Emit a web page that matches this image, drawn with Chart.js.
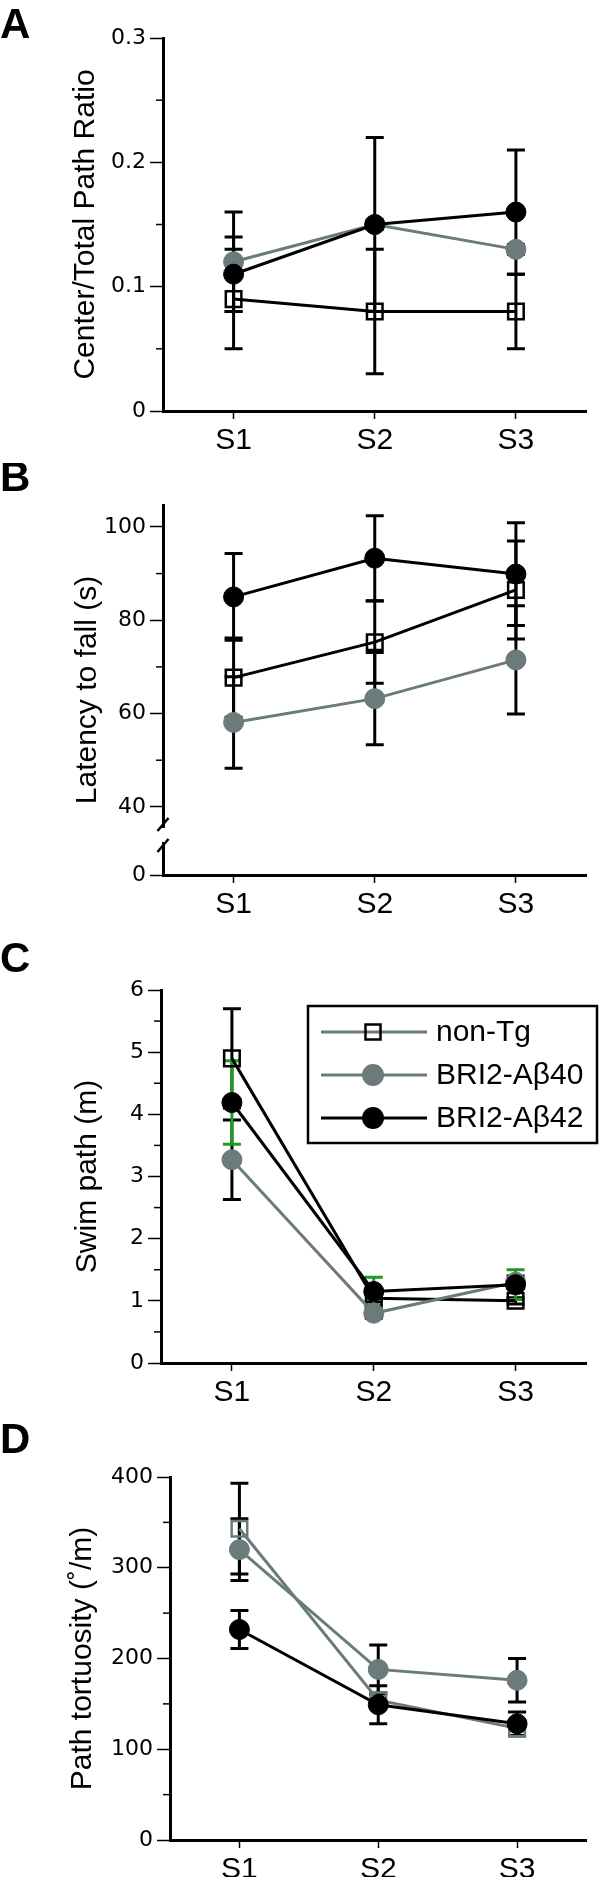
<!DOCTYPE html>
<html>
<head>
<meta charset="utf-8">
<script src="https://cdn.jsdelivr.net/npm/chart.js@4.4.1/dist/chart.umd.min.js"></script>
<style>
  html, body { margin:0; padding:0; background:#fff; }
  #page { position:relative; width:600px; height:1877px; overflow:hidden; }
  canvas { position:absolute; left:0; }
</style>
</head>
<body>
<div id="page">
  <canvas id="chartA" width="600" height="463" style="top:0px"></canvas>
  <canvas id="chartB" width="600" height="467" style="top:463px"></canvas>
  <canvas id="chartC" width="600" height="480" style="top:930px"></canvas>
  <canvas id="chartD" width="600" height="477" style="top:1400px"></canvas>
</div>
<script>
const sessions = ["S1", "S2", "S3"];
const groupNames = ["non-Tg", "BRI2-Aβ40", "BRI2-Aβ42"];

// A - center / total path ratio
const ratioNonTg = [0.09, 0.08, 0.08];
const ratioNonTgSem = [0.04, 0.05, 0.03];
const ratioAb40 = [0.12, 0.15, 0.13];
const ratioAb40Sem = [0.04, 0.004, 0.004];
const ratioAb42 = [0.11, 0.15, 0.16];
const ratioAb42Sem = [0.03, 0.07, 0.05];
const ratioTicks = [0, 0.1, 0.2, 0.3];
const ratioMinor = [0.05, 0.15, 0.25];

// B - latency to fall (s), axis broken between 0 and 40
const latencyNonTg = [67.7, 75.3, 86.5];
const latencyNonTgSem = [8.5, 8.8, 10.5];
const latencyAb40 = [58.1, 63.2, 71.5];
const latencyAb40Sem = [9.8, 9.9, 11.6];
const latencyAb42 = [85.0, 93.3, 89.9];
const latencyAb42Sem = [9.3, 9.1, 11.0];
const latencyTicks = [0, 40, 60, 80, 100];
const latencyMinor = [50, 70, 90];

// C - swim path (m)
const swimNonTg = [4.9, 1.04, 1.0];
const swimNonTgSem = [0.8, 0.06, 0.05];
const swimAb40 = [3.27, 0.8, 1.3];
const swimAb40Sem = [0.64, 0.08, 0.1];
const swimAb42 = [4.19, 1.15, 1.26];
const swimAb42Sem = [0.67, 0.23, 0.24];
const swimTicks = [0, 1, 2, 3, 4, 5, 6];
const swimMinor = [0.5, 1.5, 2.5, 3.5, 4.5, 5.5];

// D - path tortuosity (deg/m)
const tortNonTg = [343, 154, 123];
const tortNonTgSem = [50, 8, 8];
const tortAb40 = [320, 188, 176];
const tortAb40Sem = [34, 27, 24];
const tortAb42 = [232, 149, 128];
const tortAb42Sem = [21, 21, 13];
const tortTicks = [0, 100, 200, 300, 400];
const tortMinor = [50, 150, 250, 350];

const BLACK = "#000000";
const GRAY = "#6b7a7a";
const GREEN = "#1f9a22";
const FONT = '"Liberation Sans", Arial, Helvetica, sans-serif';
const TICK_FONT = '"DejaVu Sans", "Liberation Sans", sans-serif';

Chart.defaults.font.family = FONT;
Chart.defaults.color = BLACK;

function series(idx, data, sem, lineColor, markColor, errColor){
  const square = idx === 0;
  return {
    label: groupNames[idx],
    data, sem, errColor,
    order: 2 - idx,            // Aβ42 on top
    borderColor: lineColor,
    borderWidth: 3,
    tension: 0,
    pointStyle: square ? "rect" : "circle",
    pointRadius: square ? 11 : 10,
    pointBackgroundColor: square ? "rgba(0,0,0,0)" : markColor,
    pointBorderColor: markColor,
    pointBorderWidth: square ? 2.5 : 1
  };
}

// error bars under the markers
const errorBars = {
  id: "errorBars",
  beforeDatasetsDraw(chart){
    const {ctx} = chart;
    const ys = chart.scales.y;
    chart.data.datasets.forEach((ds, i)=>{
      const meta = chart.getDatasetMeta(i);
      ctx.save();
      ctx.strokeStyle = ds.errColor;
      ctx.lineWidth = 3;
      meta.data.forEach((pt, j)=>{
        const hi = ys.getPixelForValue(ds.data[j] + ds.sem[j]);
        const lo = ys.getPixelForValue(ds.data[j] - ds.sem[j]);
        ctx.beginPath();
        ctx.moveTo(pt.x, hi); ctx.lineTo(pt.x, lo);
        ctx.moveTo(pt.x - 9, hi); ctx.lineTo(pt.x + 9, hi);
        ctx.moveTo(pt.x - 9, lo); ctx.lineTo(pt.x + 9, lo);
        ctx.stroke();
      });
      ctx.restore();
    });
  }
};

const legendRows = [
  {name: groupNames[0], line: GRAY, mark: BLACK, square: true},
  {name: groupNames[1], line: GRAY, mark: GRAY, square: false},
  {name: groupNames[2], line: BLACK, mark: BLACK, square: false}
];

// panel letter, minor ticks, axis break, legend box
const panelExtras = {
  id: "panelExtras",
  afterDraw(chart, args, o){
    const {ctx} = chart;
    const y = chart.scales.y;
    ctx.save();
    ctx.fillStyle = BLACK;
    ctx.font = "bold 42px " + FONT;
    ctx.textAlign = "left";
    ctx.textBaseline = "alphabetic";
    ctx.fillText(o.letter, 0, o.letterY);

    ctx.strokeStyle = BLACK;
    ctx.lineWidth = 1.5;
    (o.minor || []).forEach(v=>{
      const py = y.getPixelForValue(v);
      ctx.beginPath();
      ctx.moveTo(y.right - 7, py);
      ctx.lineTo(y.right, py);
      ctx.stroke();
    });

    if(o.breakAbove){
      const gy = (y.getPixelForValue(o.breakAbove) + y.bottom) / 2 - 6;
      ctx.fillStyle = "#fff";
      ctx.fillRect(y.right - 4, gy - 7, 8, 14);
      ctx.lineWidth = 2.5;
      [gy - 10.5, gy + 10.5].forEach(cy=>{
        ctx.beginPath();
        ctx.moveTo(y.right - 5.5, cy + 6.5);
        ctx.lineTo(y.right + 5.5, cy - 6.5);
        ctx.stroke();
      });
    }

    if(o.legend){
      const bx = 308, by = 76, bw = 289, bh = 137;
      ctx.lineWidth = 2.5;
      ctx.strokeStyle = BLACK;
      ctx.strokeRect(bx, by, bw, bh);
      legendRows.forEach((r, i)=>{
        const ry = by + 26 + i * 43;
        ctx.strokeStyle = r.line;
        ctx.lineWidth = 3;
        ctx.beginPath();
        ctx.moveTo(321, ry); ctx.lineTo(427, ry);
        ctx.stroke();
        if(r.square){
          ctx.strokeStyle = r.mark;
          ctx.lineWidth = 2.5;
          ctx.strokeRect(373 - 7.5, ry - 7.5, 15, 15);
        } else {
          ctx.fillStyle = r.mark;
          ctx.beginPath();
          ctx.arc(373, ry, 11, 0, Math.PI * 2);
          ctx.fill();
        }
        ctx.fillStyle = BLACK;
        ctx.font = "30px " + FONT;
        ctx.textBaseline = "middle";
        ctx.fillText(r.name, 436, ry + 1);
      });
    }
    ctx.restore();
  }
};

function panel(id, box, axis, datasets, extras){
  return new Chart(document.getElementById(id), {
    type: "line",
    data: {labels: sessions, datasets},
    options: {
      responsive: false,
      animation: false,
      events: [],
      layout: {padding: {top: box.top, right: 600 - box.right, left: 0, bottom: 0}},
      plugins: {
        legend: {display: false},
        tooltip: {enabled: false},
        panelExtras: extras
      },
      scales: {
        x: {
          type: "category",
          offset: true,
          grid: {display: true, drawOnChartArea: false, offset: false, tickLength: 8, tickWidth: 1.5, tickColor: BLACK},
          border: {color: BLACK, width: 3},
          ticks: {color: BLACK, font: {size: 30}, padding: 4, maxRotation: 0},
          afterFit(s){ s.height = box.height - box.bottom; }
        },
        y: {
          min: axis.min,
          max: axis.max,
          afterBuildTicks(s){ s.ticks = axis.ticks.map(v=>({value: v})); },
          grid: {display: true, drawOnChartArea: false, tickLength: 13, tickWidth: 1.5, tickColor: BLACK},
          border: {color: BLACK, width: 3},
          ticks: {color: BLACK, font: {size: 22, family: TICK_FONT}, padding: 4, callback: axis.label || (v=>v)},
          title: {display: true, text: axis.title, color: BLACK, font: {size: 30}, padding: {top: box.titlePad, bottom: 0}},
          afterFit(s){ s.width = box.left; }
        }
      }
    },
    plugins: [errorBars, panelExtras]
  });
}

// A
panel("chartA",
  {top: 38, bottom: 411, left: 163, right: 598, height: 463, titlePad: 68},
  {min: 0, max: 0.3, ticks: ratioTicks, title: "Center/Total Path Ratio", label: v=>v === 0 ? "0" : v.toFixed(1)},
  [
    series(0, ratioNonTg, ratioNonTgSem, BLACK, BLACK, BLACK),
    series(1, ratioAb40, ratioAb40Sem, GRAY, GRAY, BLACK),
    series(2, ratioAb42, ratioAb42Sem, BLACK, BLACK, BLACK)
  ],
  {letter: "A", letterY: 38, minor: ratioMinor}
);

// B - the 0 tick sits at the bottom of the broken axis
const latencyAxisMin = 25.4;
panel("chartB",
  {top: 42, bottom: 412, left: 163, right: 598, height: 467, titlePad: 70},
  {min: latencyAxisMin, max: 104.7,
   ticks: latencyTicks.map(v=>v === 0 ? latencyAxisMin : v),
   title: "Latency to fall (s)",
   label: v=>v === latencyAxisMin ? "0" : v},
  [
    series(0, latencyNonTg, latencyNonTgSem, BLACK, BLACK, BLACK),
    series(1, latencyAb40, latencyAb40Sem, GRAY, GRAY, BLACK),
    series(2, latencyAb42, latencyAb42Sem, BLACK, BLACK, BLACK)
  ],
  {letter: "B", letterY: 28, minor: latencyMinor, breakAbove: 40}
);

// C
panel("chartC",
  {top: 60, bottom: 433, left: 161, right: 596, height: 480, titlePad: 70},
  {min: 0, max: 6, ticks: swimTicks, title: "Swim path (m)"},
  [
    series(0, swimNonTg, swimNonTgSem, BLACK, BLACK, BLACK),
    series(1, swimAb40, swimAb40Sem, GRAY, GRAY, BLACK),
    series(2, swimAb42, swimAb42Sem, BLACK, BLACK, GREEN)
  ],
  {letter: "C", letterY: 42, minor: swimMinor, legend: true}
);

// D
panel("chartD",
  {top: 77, bottom: 440, left: 170, right: 594, height: 477, titlePad: 65},
  {min: 0, max: 400, ticks: tortTicks, title: "Path tortuosity (˚/m)"},
  [
    series(0, tortNonTg, tortNonTgSem, GRAY, GRAY, BLACK),
    series(1, tortAb40, tortAb40Sem, GRAY, GRAY, BLACK),
    series(2, tortAb42, tortAb42Sem, BLACK, BLACK, BLACK)
  ],
  {letter: "D", letterY: 53, minor: tortMinor}
);
</script>
</body>
</html>
